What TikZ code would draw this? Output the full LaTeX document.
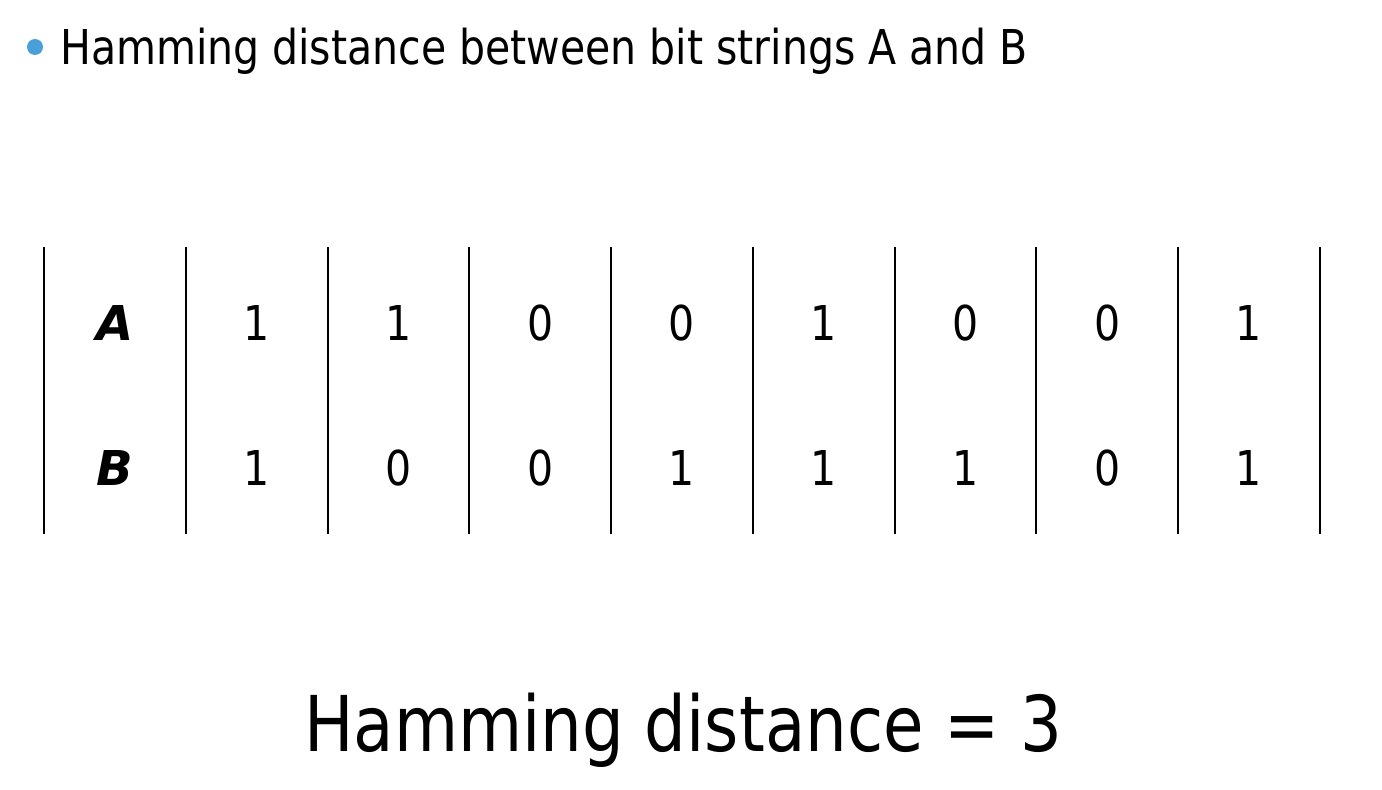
\documentclass[tikz,border=0pt]{standalone}
\usepackage{fontspec}
\setmainfont[FakeStretch=0.95]{DejaVu Sans Condensed}
\newfontfamily\lblfont{DejaVu Sans}
\definecolor{bulletblue}{HTML}{4A9FD8}
\begin{document}
\begin{tikzpicture}[x=1pt,y=-1pt,
  sep/.style={line width=2pt,black},
  bit/.style={anchor=base,inner sep=0pt,font=\fontsize{48}{48}\selectfont},
  lbl/.style={anchor=base,inner sep=0pt,font=\lblfont\fontsize{48}{48}\selectfont\bfseries\itshape},
  title/.style={anchor=base west,inner sep=0pt,font=\fontsize{48}{48}\selectfont},
  result/.style={anchor=base,inner sep=0pt,font=\fontsize{77}{77}\selectfont}]
\useasboundingbox[fill=white] (0,0) rectangle (1382,790);
\fill[bulletblue] (35,47) circle (8);
\node[title] (t) at (60,64) {Hamming distance between bit strings A and B};
\foreach \i [evaluate=\i as \xx using 44+141.75*\i] in {0,...,9}{
  \coordinate (top\i) at (\xx,247);
  \coordinate (bot\i) at (\xx,534);
  \draw[sep] (top\i) -- (bot\i);
}
\node[lbl] (la) at (115,340) {A};
\node[lbl] (lb) at (115,485) {B};
\foreach \a [count=\k] in {1,1,0,0,1,0,0,1}{
  \node[bit] (a\k) at ({115+141.75*\k},340) {\a};
}
\foreach \b [count=\k] in {1,0,0,1,1,1,0,1}{
  \node[bit] (b\k) at ({115+141.75*\k},485) {\b};
}
\node[result] (r) at (683.5,751) {Hamming distance = 3};
\end{tikzpicture}
\end{document}
